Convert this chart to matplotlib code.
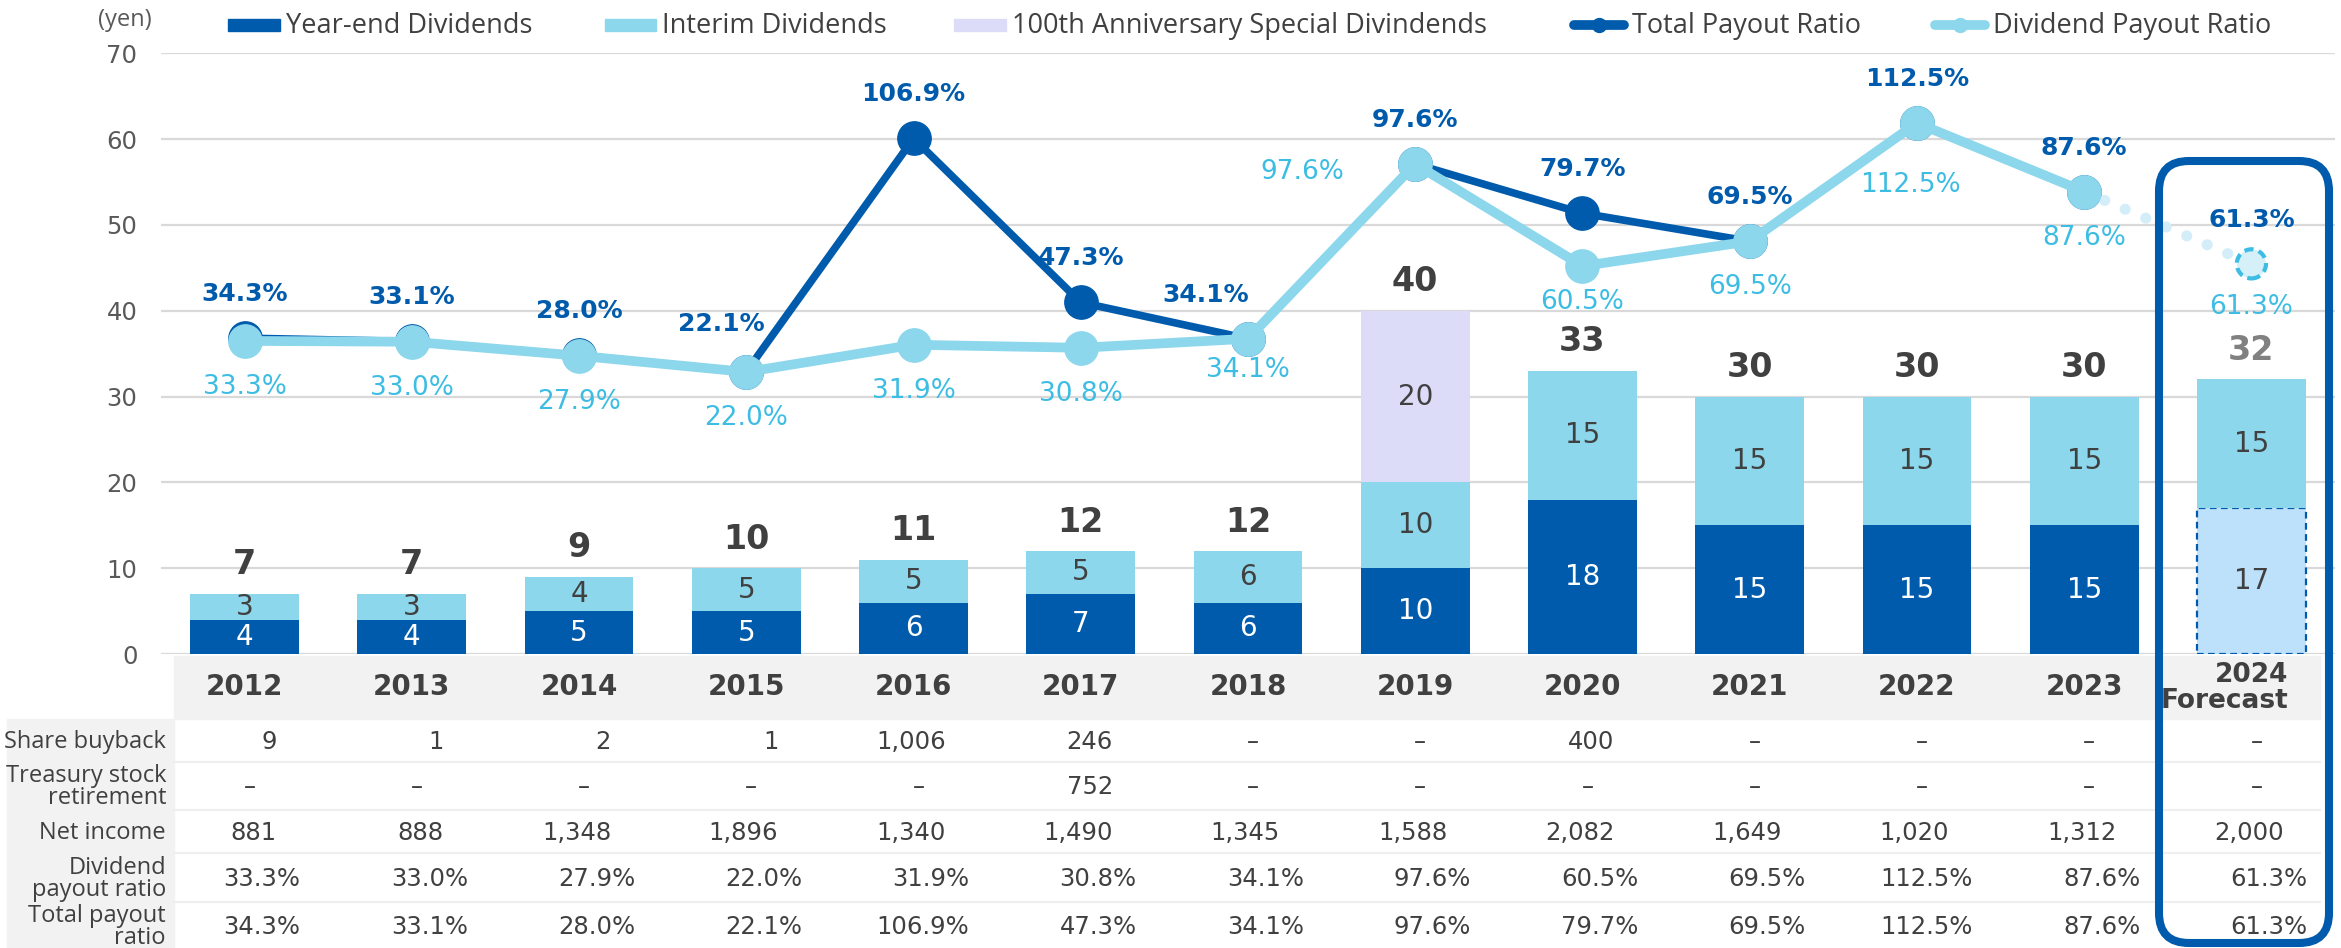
import matplotlib
matplotlib.use('Agg')
import matplotlib.pyplot as plt
import matplotlib.transforms as mtransforms
from matplotlib.patches import Rectangle, FancyBboxPatch
from matplotlib.lines import Line2D
import numpy as np

# dividend per share (yen)
years = ['2012', '2013', '2014', '2015', '2016', '2017', '2018', '2019',
         '2020', '2021', '2022', '2023', '2024\nForecast']
year_end = [4, 4, 5, 5, 6, 7, 6, 10, 18, 15, 15, 15, 17]
interim = [3, 3, 4, 5, 5, 5, 6, 10, 15, 15, 15, 15, 15]
special = [0, 0, 0, 0, 0, 0, 0, 20, 0, 0, 0, 0, 0]
total_div = [7, 7, 9, 10, 11, 12, 12, 40, 33, 30, 30, 30, 32]

# payout ratios (%)
total_payout = [34.3, 33.1, 28.0, 22.1, 106.9, 47.3, 34.1, 97.6, 79.7, 69.5, 112.5, 87.6, 61.3]
dividend_payout = [33.3, 33.0, 27.9, 22.0, 31.9, 30.8, 34.1, 97.6, 60.5, 69.5, 112.5, 87.6, 61.3]

# table rows
share_buyback = ['9', '1', '2', '1', '1,006', '246', '–', '–', '400', '–', '–', '–', '–']
treasury_retire = ['–', '–', '–', '–', '–', '752', '–', '–', '–', '–', '–', '–', '–']
net_income = [881, 888, 1348, 1896, 1340, 1490, 1345, 1588, 2082, 1649, 1020, 1312, 2000]
row_labels = ['Share buyback', 'Treasury stock\nretirement', 'Net income',
              'Dividend\npayout ratio', 'Total payout\nratio']

DARK = '#005bac'
LIGHT = '#8dd7ec'
LAVENDER = '#dcdcf8'
FORECAST = '#bde0fb'
SKY = '#3dbde3'
PALE = '#d3eef8'
TXT = '#404040'
GRID = '#d9d9d9'
BAND = '#f2f2f2'

NUM_FONT = 'DejaVu Sans'
TXT_FONT = 'Open Sans'

W, H = 2341, 948
fig = plt.figure(figsize=(W / 100, H / 100), dpi=100)


def fx(px):
    return px / W


def fy(py):
    return 1 - py / H


ax = fig.add_axes([fx(161), fy(654), fx(2335) - fx(161), fy(53.4) - fy(654)])
x = np.arange(len(years))
bw = 0.65

# stacked bars
ye_colors = [DARK] * 12 + [FORECAST]
bars_ye = ax.bar(x, year_end, bw, color=ye_colors, zorder=2)
bars_ye[-1].set_edgecolor(DARK)
bars_ye[-1].set_linestyle((0, (3, 2)))
bars_ye[-1].set_linewidth(1.6)
bottom2 = np.array(year_end)
ax.bar(x, interim, bw, bottom=bottom2, color=LIGHT, zorder=2)
bottom3 = bottom2 + np.array(interim)
ax.bar(x, special, bw, bottom=bottom3, color=LAVENDER, zorder=2)

for i in x:
    ax.text(i, year_end[i] / 2, str(year_end[i]), ha='center', va='center',
            fontsize=20, family=NUM_FONT, color='white' if i < 12 else TXT, zorder=3)
    ax.text(i, bottom2[i] + interim[i] / 2, str(interim[i]), ha='center', va='center',
            fontsize=20, family=NUM_FONT, color=TXT, zorder=3)
    if special[i]:
        ax.text(i, bottom3[i] + special[i] / 2, str(special[i]), ha='center', va='center',
                fontsize=20, family=NUM_FONT, color=TXT, zorder=3)
    ax.annotate(str(total_div[i]), (i, total_div[i]), xytext=(0, 29), textcoords='offset pixels',
                ha='center', va='center', fontsize=24, family=NUM_FONT, weight='bold',
                color=TXT if i < 12 else '#808080', zorder=3)

ax.set_xlim(-0.5, len(years) - 0.5)
ax.set_ylim(0, 70)
ax.set_yticks(range(0, 71, 10))
ax.set_xticks([])
ax.tick_params(axis='y', length=0, pad=17, labelsize=17.5, labelcolor='#595959')
for lab in ax.get_yticklabels():
    lab.set_family(NUM_FONT)
ax.yaxis.grid(True, color=GRID, lw=1.6)
ax.set_axisbelow(True)
for s in ax.spines.values():
    s.set_visible(False)

# payout ratio lines on a hidden secondary scale
ax2 = ax.twinx()
ax2.set_ylim(-80.5, 137.8)
ax2.axis('off')
ax2.plot(x[:12], total_payout[:12], color=DARK, lw=5.5, marker='o', ms=24,
         solid_joinstyle='round', zorder=2)
ax2.plot(x[11:], dividend_payout[11:], color=PALE, lw=8, linestyle=(0, (0.01, 2.0)),
         dash_capstyle='round', zorder=2)
ax2.plot(x[:12], dividend_payout[:12], color=LIGHT, lw=7, marker='o', ms=24,
         solid_joinstyle='round', zorder=3)
ax2.scatter([x[12]], [dividend_payout[12]], s=21 ** 2, facecolor='#d6f0f9', edgecolor=SKY,
            linewidths=3, linestyle=(0, (2.2, 1.3)), zorder=4)

dark_off = {i: (0, 44) for i in x}
dark_off[3] = (-25, 48)
dark_off[6] = (-42, 44)
light_off = {i: (0, -46) for i in x}
light_off[6] = (0, -31)
light_off[7] = (-113, -8)
light_off[8] = (0, -36)
light_off[10] = (-6, -62)
light_off[12] = (0, -43)

for i in x:
    ax2.annotate(f'{total_payout[i]:.1f}%', (i, total_payout[i]), xytext=dark_off[i],
                 textcoords='offset pixels', ha='center', va='center', fontsize=18,
                 family=NUM_FONT, weight='bold', color=DARK, zorder=5)
    ax2.annotate(f'{dividend_payout[i]:.1f}%', (i, dividend_payout[i]), xytext=light_off[i],
                 textcoords='offset pixels', ha='center', va='center', fontsize=19,
                 family=NUM_FONT, color=SKY, zorder=5)

fig.text(fx(125), fy(20), '(yen)', ha='center', va='center', fontsize=17,
         family=TXT_FONT, color='#595959')

# legend
leg_y = 25
patches = [(228, 280, DARK, 'Year-end Dividends'),
           (605, 656, LIGHT, 'Interim Dividends'),
           (954, 1006, LAVENDER, '100th Anniversary Special Divindends')]
for x0, x1, col, lab in patches:
    fig.patches.append(Rectangle((fx(x0), fy(leg_y + 6)), fx(x1) - fx(x0), 12 / H,
                                 transform=fig.transFigure, color=col))
    fig.text(fx(x1 + 6), fy(leg_y + 1), lab, ha='left', va='center', fontsize=19.5,
             family=TXT_FONT, color=TXT)
for x0, x1, col, lab in [(1570, 1628, DARK, 'Total Payout Ratio'),
                         (1931, 1989, LIGHT, 'Dividend Payout Ratio')]:
    fig.lines.append(Line2D([fx(x0 + 4), fx(x1 - 4)], [fy(leg_y)] * 2, transform=fig.transFigure,
                            color=col, lw=7, solid_capstyle='round'))
    fig.lines.append(Line2D([fx((x0 + x1) / 2)], [fy(leg_y)], transform=fig.transFigure,
                            color=col, marker='o', ms=10))
    fig.text(fx(x1 + 4), fy(leg_y + 1), lab, ha='left', va='center', fontsize=19.5,
             family=TXT_FONT, color=TXT)

# table below the chart
fig.patches.append(Rectangle((fx(174), fy(719)), fx(2320) - fx(174), (719 - 656) / H,
                             transform=fig.transFigure, color=BAND, zorder=0.5))
fig.patches.append(Rectangle((fx(7), fy(948)), fx(174) - fx(7), (948 - 719) / H,
                             transform=fig.transFigure, color=BAND, zorder=0.5))
for yy in [762, 810, 853, 902]:
    fig.lines.append(Line2D([fx(174), fx(2320)], [fy(yy)] * 2, transform=fig.transFigure,
                            color='#efefef', lw=1.6))

col_tr = mtransforms.blended_transform_factory(ax.transData, fig.transFigure)
for i in x:
    if i < 12:
        fig.text(i, fy(687), years[i], transform=col_tr, ha='center', va='center',
                 fontsize=20, family=NUM_FONT, weight='bold', color=TXT)
    else:
        t = mtransforms.offset_copy(col_tr, fig=fig, x=37, units='dots')
        fig.text(i, fy(688), years[i], transform=t, ha='right', va='center',
                 multialignment='right', linespacing=0.95, fontsize=19,
                 family=NUM_FONT, weight='bold', color=TXT)

num_tr = mtransforms.offset_copy(col_tr, fig=fig, x=32, units='dots')
pct_tr = mtransforms.offset_copy(col_tr, fig=fig, x=56, units='dots')
dash_tr = mtransforms.offset_copy(col_tr, fig=fig, x=5, units='dots')

rows = [share_buyback, treasury_retire, [f'{v:,}' for v in net_income],
        [f'{v:.1f}%' for v in dividend_payout], [f'{v:.1f}%' for v in total_payout]]
row_y = [742, 787, 833, 879, 927]

for r, (vals, yy) in enumerate(zip(rows, row_y)):
    fig.text(fx(166), fy(yy), row_labels[r], ha='right', va='center',
             multialignment='right', linespacing=0.92, fontsize=17,
             family=TXT_FONT, color=TXT)
    for i, v in enumerate(vals):
        if v == '–':
            fig.text(i, fy(yy), v, transform=dash_tr, ha='center', va='center',
                     fontsize=17.5, family=NUM_FONT, color=TXT)
        elif v.endswith('%'):
            fig.text(i, fy(yy), v, transform=pct_tr, ha='right', va='center',
                     fontsize=17.5, family=NUM_FONT, color=TXT)
        else:
            fig.text(i, fy(yy), v, transform=num_tr, ha='right', va='center',
                     fontsize=17.5, family=NUM_FONT, color=TXT)

# highlight frame around the forecast column
frame = FancyBboxPatch((2159, 948 - 943), 170, 782,
                       boxstyle='round,pad=0,rounding_size=30',
                       transform=mtransforms.IdentityTransform(),
                       fill=False, ec=DARK, lw=5.8, zorder=5)
fig.patches.append(frame)

fig.savefig('out.png', dpi=100)
